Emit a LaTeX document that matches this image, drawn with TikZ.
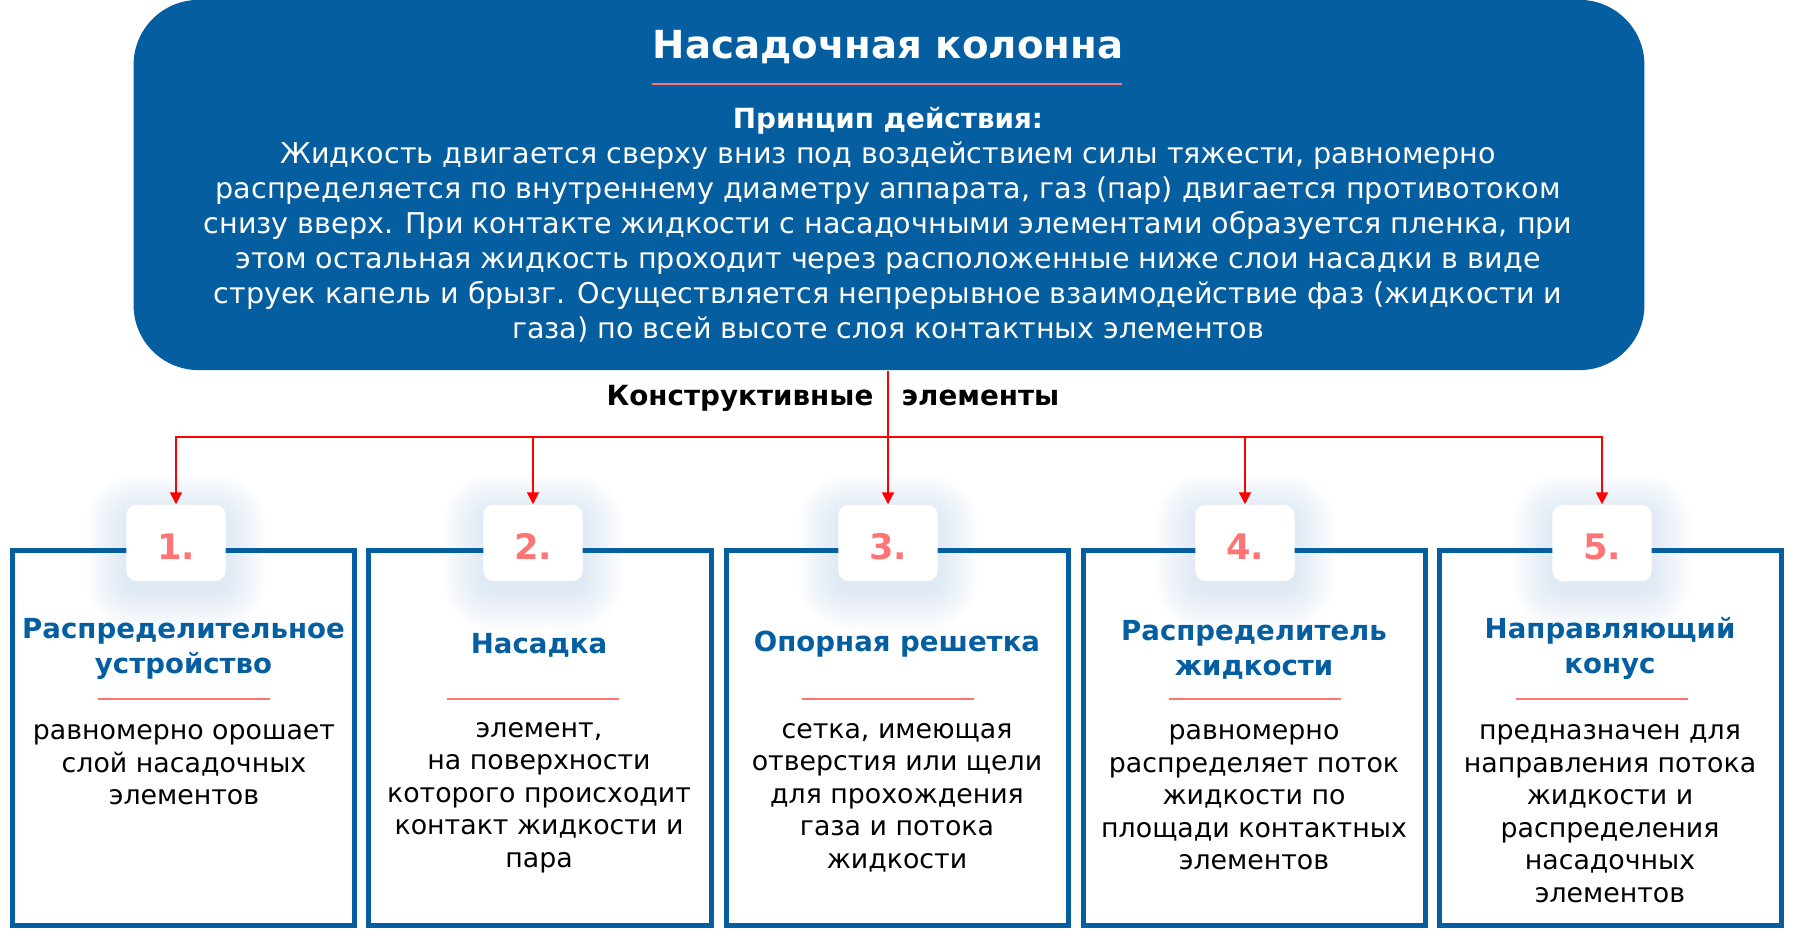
\documentclass[tikz,border=0pt]{standalone}
\usepackage{fontspec}
\setmainfont{DejaVu Sans}
\usetikzlibrary{arrows.meta}
\definecolor{boxblue}{RGB}{4,94,160}
\definecolor{numred}{RGB}{255,117,117}
\definecolor{glow}{RGB}{170,196,226}
\begin{document}
\begin{tikzpicture}[x=0.01cm,y=-0.01cm,
  link/.style={red,line width=0.018cm,-{Triangle[width=0.12cm,length=0.12cm]}},
  sep/.style={numred,line width=0.015cm},
  frame/.style={draw=boxblue,line width=0.05cm,minimum width=3.42cm,minimum height=3.75cm},
  badge/.style={fill=white,rounded corners=0.1cm,minimum width=0.99cm,minimum height=0.76cm,text height=0.33cm,text depth=0pt,text=numred,font=\fontsize{10}{12}\selectfont\bfseries},
  ttl/.style={text=boxblue,align=center,font=\fontsize{7.85}{9.96}\selectfont\bfseries},
  txt/.style={align=center,font=\fontsize{7.62}{9.25}\selectfont}]
 \useasboundingbox (0,0) rectangle (1794,949);
 \node (head) [fill=boxblue,rounded corners=0.65cm,minimum width=15.1cm,minimum height=3.7cm] at (889,185) {};
 \node (title) [text=white,font=\fontsize{11}{13}\selectfont\bfseries] at (888,47) {Насадочная колонна};
 \draw[sep] (652,84) -- (1122,84);
 \node (princ) [text=white,font=\fontsize{7.9}{9.5}\selectfont\bfseries] at (888,121) {Принцип действия:};
 \node (body) [text=white,align=center,font=\fontsize{8.13}{9.96}\selectfont] at (888,242) {Жидкость двигается сверху вниз под воздействием силы тяжести, равномерно\\распределяется по внутреннему диаметру аппарата, газ (пар) двигается противотоком\\снизу вверх. При контакте жидкости с насадочными элементами образуется пленка, при\\этом остальная жидкость проходит через расположенные ниже слои насадки в виде\\струек капель и брызг. Осуществляется непрерывное взаимодействие фаз (жидкости и\\газа) по всей высоте слоя контактных элементов};
 \node (kon) [anchor=east,inner sep=0pt,font=\fontsize{7.9}{9.5}\selectfont\bfseries] at (874,398) {Конструктивные};
 \node (elem) [anchor=west,inner sep=0pt,font=\fontsize{7.9}{9.5}\selectfont\bfseries] at (901,398) {элементы};
 \foreach \x in {176,533,888,1245,1602}
  \foreach \k in {1,...,16} {
   \pgfmathsetlengthmacro\rc{0.1cm+0.025cm*\k}
   \fill[glow,opacity=0.028,rounded corners=\rc] ({\x-50-2.5*\k},{514-2.5*\k}) rectangle ({\x+50+2.5*\k},{590+2.5*\k});
  }
 \node (b1) [frame] at (183.5,738) {};
 \node (b2) [frame] at (540,738) {};
 \node (b3) [frame] at (897.5,738) {};
 \node (b4) [frame] at (1254.5,738) {};
 \node (b5) [frame] at (1610.5,738) {};
 \node (n1) [badge] at (176,543) {1.};
 \node (n2) [badge] at (533,543) {2.};
 \node (n3) [badge] at (888,543) {3.};
 \node (n4) [badge] at (1245,543) {4.};
 \node (n5) [badge] at (1602,543) {5.};
 \node (t1) [ttl] at (183.5,649) {Распределительное\\устройство};
 \node (t2) [ttl] at (539,645) {Насадка};
 \node (t3) [ttl] at (897,644) {Опорная решетка};
 \node (t4) [ttl] at (1254,650) {Распределитель\\жидкости};
 \node (t5) [ttl] at (1610,648) {Направляющий\\конус};
 \draw[sep] (98,699) -- (270,699);
 \draw[sep] (447,699) -- (619,699);
 \draw[sep] (802,699) -- (974,699);
 \draw[sep] (1169,699) -- (1341,699);
 \draw[sep] (1516,699) -- (1688,699);
 \node (d1) [txt] at (184,765) {равномерно орошает\\слой насадочных\\элементов};
 \node (d2) [txt] at (539,797.5) {элемент,\\на поверхности\\которого происходит\\контакт жидкости и\\пара};
 \node (d3) [txt] at (897,797.5) {сетка, имеющая\\отверстия или щели\\для прохождения\\газа и потока\\жидкости};
 \node (d4) [txt] at (1254,797.5) {равномерно\\распределяет поток\\жидкости по\\площади контактных\\элементов};
 \node (d5) [txt] at (1610,813.5) {предназначен для\\направления потока\\жидкости и\\распределения\\насадочных\\элементов};
 \coordinate (bus) at (888,437);
 \draw[link] (head.south -| n3.north) -- (n3.north);
 \foreach \i in {1,2,4,5} \draw[link] (bus) -| (n\i.north);
\end{tikzpicture}
\end{document}
